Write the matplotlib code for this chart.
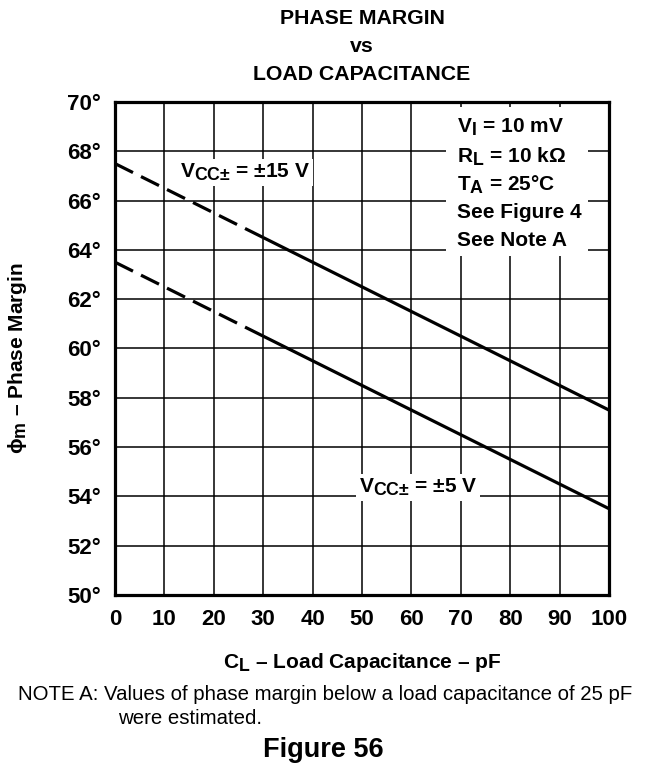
import matplotlib
matplotlib.use("Agg")
import matplotlib.pyplot as plt
import matplotlib._mathtext as mathtext_internal
from matplotlib.patches import Rectangle
import numpy as np

plt.rcParams['font.family'] = ['Liberation Sans', 'DejaVu Sans']
plt.rcParams['mathtext.fontset'] = 'custom'
plt.rcParams['mathtext.rm'] = 'Liberation Sans:bold'
plt.rcParams['mathtext.it'] = 'Liberation Sans:bold'
plt.rcParams['mathtext.bf'] = 'Liberation Sans:bold'
# larger subscripts, closer to data-sheet style
mathtext_internal.SHRINK_FACTOR = 0.85

# load capacitance (pF) and phase margin (deg) for both supply voltages
cl = [0, 30, 100]
pm_15v = [67.5, 64.5, 57.5]
pm_5v = [63.5, 60.5, 53.5]

xticks = np.arange(0, 101, 10)
yticks = np.arange(50, 71, 2)
ytick_labels = [f"{v}°" for v in yticks]

fig = plt.figure(figsize=(6.47, 7.7), dpi=100)
ax = fig.add_axes([0.1777, 0.2273, 0.7636, 0.6403])

# dashed part = estimated values, solid part = measured
for pm in (pm_15v, pm_5v):
    ax.plot(cl[:2], pm[:2], color='black', lw=2.3, ls=(0, (6.3, 2.8)),
            solid_capstyle='butt', zorder=4)
    ax.plot(cl[1:], pm[1:], color='black', lw=2.3, solid_capstyle='butt',
            zorder=4)

ax.set_xlim(0, 100)
ax.set_ylim(50, 70)
ax.set_xticks(xticks)
ax.set_yticks(yticks)
ax.set_xticklabels([str(v) for v in xticks], fontsize=16, fontweight='bold')
ax.set_yticklabels(ytick_labels, fontsize=16, fontweight='bold')
ax.tick_params(axis='x', length=0, pad=10)
ax.tick_params(axis='y', length=0, pad=10)
ax.grid(True, color='black', lw=1.1)
ax.set_axisbelow(True)
for s in ax.spines.values():
    s.set_linewidth(2.3)
    s.set_zorder(6)

# curve labels
box = dict(facecolor='white', edgecolor='none', pad=2)
ax.text(13.2, 67.15, r"V$_{\mathrm{CC}{\pm}}$ = ±15 V", fontsize=15,
        fontweight='bold', va='center', ha='left', bbox=box, zorder=5)
ax.text(49.4, 54.35, r"V$_{\mathrm{CC}{\pm}}$ = ±5 V", fontsize=15,
        fontweight='bold', va='center', ha='left', bbox=box, zorder=5)

# test conditions block
ax.add_patch(Rectangle((67.0, 63.75), 28.8, 6.05, facecolor='white',
                       edgecolor='none', zorder=3))
conds = [r"V$_{\mathrm{I}}$ = 10 mV", r"R$_{\mathrm{L}}$ = 10 kΩ",
         r"T$_{\mathrm{A}}$ = 25°C", "See Figure 4", "See Note A"]
cond_y = [68.95, 67.77, 66.63, 65.5, 64.36]
for t, y in zip(conds, cond_y):
    ax.text(69.2, y, t, fontsize=15, fontweight='bold', va='center',
            ha='left', zorder=5)

ax.set_xlabel(r"C$_{\mathrm{L}}$ – Load Capacitance – pF", fontsize=15,
              fontweight='bold', labelpad=15)
ax.set_ylabel(r"ϕ$_{\mathrm{m}}$ – Phase Margin", fontsize=15,
              fontweight='bold', labelpad=21)
ax.yaxis.set_label_coords(-0.175, 0.48)

fig.text(0.5595, 1 - 18 / 770, "PHASE MARGIN", fontsize=15.3,
         fontweight='bold', ha='center', va='center')
fig.text(0.5595, 1 - 46 / 770, "vs", fontsize=15.3, fontweight='bold',
         ha='center', va='center')
fig.text(0.5595, 1 - 74 / 770, "LOAD CAPACITANCE", fontsize=15.3,
         fontweight='bold', ha='center', va='center')

fig.text(18 / 647, 1 - 695 / 770,
         "NOTE A: Values of phase margin below a load capacitance of 25 pF",
         fontsize=14.7, ha='left', va='center')
fig.text(118 / 647, 1 - 719 / 770, "were estimated.", fontsize=14.7,
         ha='left', va='center')
fig.text(0.5, 1 - 750 / 770, "Figure 56", fontsize=19.5, fontweight='bold',
         ha='center', va='center')

fig.savefig("out.png", dpi=100)
